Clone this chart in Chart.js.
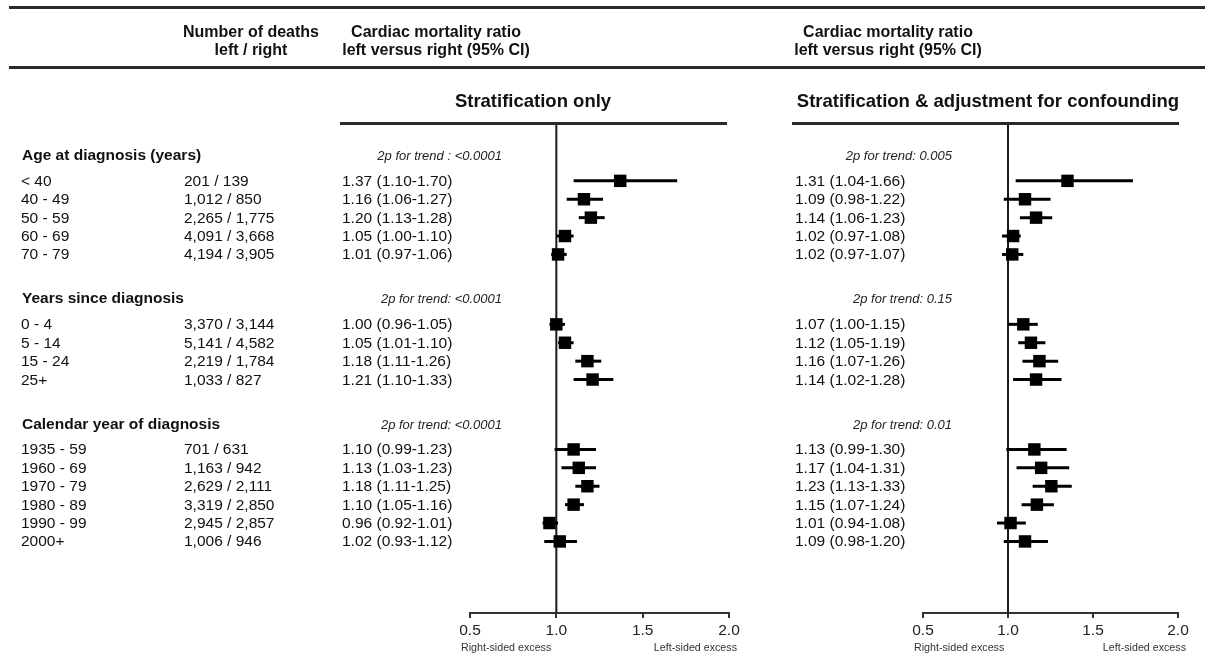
<!DOCTYPE html>
<html>
<head>
<meta charset="utf-8">
<script src="https://cdn.jsdelivr.net/npm/chart.js@4.4.1/dist/chart.umd.min.js"></script>
<style>
  html, body { margin: 0; padding: 0; background: #fff; }
  #page { position: relative; width: 1205px; height: 655px; overflow: hidden;
          font-family: "Liberation Sans", Arial, sans-serif; color: #111; }
  #page canvas { position: absolute; left: 0; top: 0; }
  .t { position: absolute; white-space: nowrap; line-height: 1; }
  .row { font-size: 15.5px; transform: translateY(-50%); }
  .grp { font-size: 15.5px; font-weight: bold; transform: translateY(-50%); }
  .trend { font-size: 13px; font-style: italic; color: #222; transform: translate(-100%, -50%); }
  .head { font-size: 16px; font-weight: bold; text-align: center; line-height: 18px; transform: translateX(-50%); }
  .panel { font-size: 18.5px; font-weight: bold; transform: translate(-50%, -50%); }
  .cap { font-size: 10.7px; color: #333; transform: translateY(-50%); }
  .rule { position: absolute; background: #2a2a2a; }
</style>
</head>
<body>
<div id="page">
  <canvas id="left" width="1205" height="655"></canvas>
  <canvas id="right" width="1205" height="655"></canvas>
</div>
<script>
// table data
const groups = ['Age at diagnosis (years)', 'Years since diagnosis', 'Calendar year of diagnosis'];
const trendStrat = ['2p for trend : <0.0001', '2p for trend: <0.0001', '2p for trend: <0.0001'];
const trendAdj = ['2p for trend: 0.005', '2p for trend: 0.15', '2p for trend: 0.01'];
const rowGroup = [0, 0, 0, 0, 0, 1, 1, 1, 1, 2, 2, 2, 2, 2, 2];
const categories = ['< 40', '40 - 49', '50 - 59', '60 - 69', '70 - 79',
    '0 - 4', '5 - 14', '15 - 24', '25+',
    '1935 - 59', '1960 - 69', '1970 - 79', '1980 - 89', '1990 - 99', '2000+'];
const deathsLeft = [201, 1012, 2265, 4091, 4194, 3370, 5141, 2219, 1033, 701, 1163, 2629, 3319, 2945, 1006];
const deathsRight = [139, 850, 1775, 3668, 3905, 3144, 4582, 1784, 827, 631, 942, 2111, 2850, 2857, 946];

// stratification only: ratio and 95% CI
const stratEst = [1.37, 1.16, 1.20, 1.05, 1.01, 1.00, 1.05, 1.18, 1.21, 1.10, 1.13, 1.18, 1.10, 0.96, 1.02];
const stratLo = [1.10, 1.06, 1.13, 1.00, 0.97, 0.96, 1.01, 1.11, 1.10, 0.99, 1.03, 1.11, 1.05, 0.92, 0.93];
const stratHi = [1.70, 1.27, 1.28, 1.10, 1.06, 1.05, 1.10, 1.26, 1.33, 1.23, 1.23, 1.25, 1.16, 1.01, 1.12];

// stratification & adjustment: printed values
const adjText = ['1.31 (1.04-1.66)', '1.09 (0.98-1.22)', '1.14 (1.06-1.23)', '1.02 (0.97-1.08)', '1.02 (0.97-1.07)',
    '1.07 (1.00-1.15)', '1.12 (1.05-1.19)', '1.16 (1.07-1.26)', '1.14 (1.02-1.28)',
    '1.13 (0.99-1.30)', '1.17 (1.04-1.31)', '1.23 (1.13-1.33)', '1.15 (1.07-1.24)', '1.01 (0.94-1.08)', '1.09 (0.98-1.20)'];
// ...and the marks as drawn against the axis in the figure
const adjEst = [1.35, 1.10, 1.165, 1.03, 1.025, 1.09, 1.135, 1.185, 1.165, 1.155, 1.195, 1.255, 1.17, 1.015, 1.10];
const adjLo = [1.045, 0.975, 1.07, 0.965, 0.965, 1.00, 1.06, 1.085, 1.03, 0.99, 1.05, 1.145, 1.08, 0.935, 0.975];
const adjHi = [1.735, 1.25, 1.26, 1.075, 1.09, 1.175, 1.22, 1.295, 1.315, 1.345, 1.36, 1.375, 1.27, 1.105, 1.235];

const xTicks = [0.5, 1.0, 1.5, 2.0];

// vertical layout in row units
const FIRST_HEAD = 1.68, HEAD_GAP = 1.41, GROUP_GAP = 2.39, Y_MAX = 26.58;

const headY = [];
const rowY = [];
let y = FIRST_HEAD;
groups.forEach((g, gi) => {
    headY.push(y);
    y += HEAD_GAP;
    rowGroup.forEach((rg, i) => {
        if (rg === gi) { rowY[i] = y; y += 1; }
    });
    y += GROUP_GAP - 1;
});

Chart.defaults.font.family = "'Liberation Sans', Arial, sans-serif";
Chart.defaults.color = '#222';

function fmtCI(e, lo, hi) {
    return e.toFixed(2) + ' (' + lo.toFixed(2) + '-' + hi.toFixed(2) + ')';
}

function makePanel(canvasId, est, lo, hi, padLeft, padRight) {
    const datasets = [{
        data: est.map((v, i) => ({ x: v, y: rowY[i] })),
        pointStyle: 'rect',
        pointRadius: 8.8,
        backgroundColor: '#000',
        borderColor: '#000',
        borderWidth: 0,
        order: 0
    }];
    lo.forEach((l, i) => {
        datasets.push({
            data: [{ x: l, y: rowY[i] }, { x: hi[i], y: rowY[i] }],
            showLine: true,
            borderColor: '#000',
            borderWidth: 3,
            pointRadius: 0,
            order: 1
        });
    });
    datasets.push({
        data: [{ x: 1, y: 0 }, { x: 1, y: Y_MAX }],
        showLine: true,
        borderColor: '#1a1a1a',
        borderWidth: 2,
        pointRadius: 0,
        order: 2
    });

    return new Chart(document.getElementById(canvasId), {
        type: 'scatter',
        data: { datasets },
        options: {
            responsive: false,
            animation: false,
            devicePixelRatio: 1,
            layout: { padding: { left: padLeft, right: padRight, top: 124, bottom: 0 } },
            plugins: { legend: { display: false }, tooltip: { enabled: false } },
            elements: { line: { tension: 0 } },
            scales: {
                x: {
                    type: 'linear',
                    min: xTicks[0],
                    max: xTicks[xTicks.length - 1],
                    afterBuildTicks: (scale) => { scale.ticks = xTicks.map(v => ({ value: v })); },
                    afterFit: (scale) => { scale.height = 42; },
                    grid: { drawOnChartArea: false, drawTicks: true, tickLength: 5, color: '#333', lineWidth: 2 },
                    border: { display: true, color: '#333', width: 2 },
                    ticks: {
                        color: '#222',
                        padding: 3,
                        maxRotation: 0,
                        font: { size: 15.5 },
                        callback: (v) => Number(v).toFixed(1)
                    }
                },
                y: { type: 'linear', display: false, reverse: true, min: 0, max: Y_MAX }
            }
        }
    });
}

const leftChart = makePanel('left', stratEst, stratLo, stratHi, 470, 476);
const rightChart = makePanel('right', adjEst, adjLo, adjHi, 923, 27);

// text layer
const page = document.getElementById('page');
function addText(cls, text, x, yPx) {
    const d = document.createElement('div');
    d.className = 't ' + cls;
    d.textContent = text;
    d.style.left = x + 'px';
    d.style.top = yPx + 'px';
    page.appendChild(d);
    return d;
}
function addRule(x, yPx, w, h) {
    const d = document.createElement('div');
    d.className = 'rule';
    Object.assign(d.style, { left: x + 'px', top: yPx + 'px', width: w + 'px', height: h + 'px' });
    page.appendChild(d);
}

const yScale = leftChart.scales.y;
const py = (v) => yScale.getPixelForValue(v);

addRule(9, 6, 1196, 3);
addRule(9, 66, 1196, 3);
addRule(340, 122, 387, 3);
addRule(792, 122, 387, 3);

const h1 = addText('head', '', 251, 23); h1.innerHTML = 'Number of deaths<br>left / right';
const h2 = addText('head', '', 436, 23); h2.innerHTML = 'Cardiac mortality ratio<br>left versus right (95% CI)';
const h3 = addText('head', '', 888, 23); h3.innerHTML = 'Cardiac mortality ratio<br>left versus right (95% CI)';

addText('panel', 'Stratification only', 533, 101);
addText('panel', 'Stratification & adjustment for confounding', 988, 101);

groups.forEach((g, gi) => {
    addText('grp', g, 22, py(headY[gi]));
    addText('trend', trendStrat[gi], 502, py(headY[gi]));
    addText('trend', trendAdj[gi], 952, py(headY[gi]));
});

categories.forEach((c, i) => {
    const yy = py(rowY[i]);
    addText('row', c, 21, yy);
    addText('row', deathsLeft[i].toLocaleString('en-US') + ' / ' + deathsRight[i].toLocaleString('en-US'), 184, yy);
    addText('row', fmtCI(stratEst[i], stratLo[i], stratHi[i]), 342, yy);
    addText('row', adjText[i], 795, yy);
});

// axis captions
[leftChart, rightChart].forEach((ch) => {
    const xs = ch.scales.x;
    addText('cap', 'Right-sided excess', xs.getPixelForValue(0.5) - 9, 647);
    const r = addText('cap', 'Left-sided excess', xs.getPixelForValue(2.0) + 8, 647);
    r.style.transform = 'translate(-100%, -50%)';
});
</script>
</body>
</html>
